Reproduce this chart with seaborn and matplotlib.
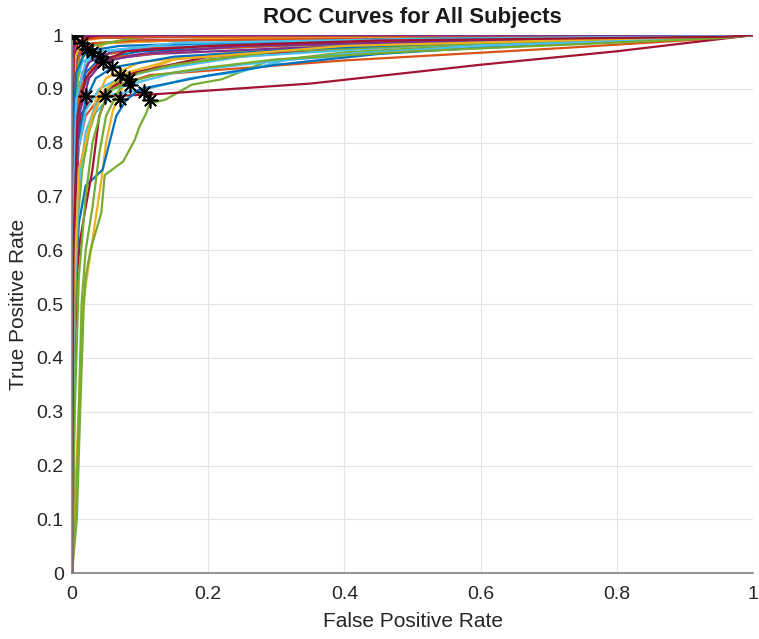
import pandas as pd
import seaborn as sns
import matplotlib.pyplot as plt
from matplotlib.ticker import FuncFormatter

# ROC points (fpr, tpr) per subject
s01 = [(0, 0), (0.001, 0.7), (0.004, 0.93), (0.01, 0.97), (0.03, 0.985), (0.15, 0.99), (0.5, 0.995), (0.96, 0.997), (1, 1)]
s02 = [(0, 0), (0.002, 0.5), (0.008, 0.78), (0.02, 0.85), (0.05, 0.9), (0.115, 0.926), (0.4, 0.953), (0.72, 0.976), (0.96, 0.995), (1, 1)]
s03 = [(0, 0), (0.016, 0.5), (0.043, 0.73), (0.05, 0.8), (0.06, 0.86), (0.08, 0.92), (0.15, 0.955), (0.3, 0.975), (0.6, 0.99), (0.96, 0.998), (1, 1)]
s04 = [(0, 0), (0.001, 0.8), (0.006, 0.95), (0.02, 0.98), (0.08, 0.99), (0.4, 0.995), (1, 1)]
s05 = [(0, 0), (0.007, 0.1), (0.012, 0.3), (0.017, 0.49), (0.02, 0.55), (0.027, 0.6), (0.043, 0.67), (0.048, 0.74),
       (0.075, 0.765), (0.092, 0.805), (0.099, 0.83), (0.109, 0.855), (0.114, 0.873), (0.137, 0.88), (0.176, 0.908),
       (0.22, 0.918), (0.286, 0.951), (0.4, 0.968), (0.6, 0.982), (0.96, 0.996), (1, 1)]
s06 = [(0, 0), (0.003, 0.6), (0.01, 0.75), (0.03, 0.85), (0.06, 0.89), (0.11, 0.9), (0.173, 0.92), (0.247, 0.932),
       (0.315, 0.954), (0.5, 0.97), (0.75, 0.985), (0.96, 0.997), (1, 1)]
s07 = [(0, 0), (0.003, 0.35), (0.005, 0.6), (0.008, 0.75), (0.012, 0.85), (0.03, 0.885), (0.12, 0.89), (0.35, 0.91),
       (0.6, 0.945), (0.8, 0.97), (1, 1)]
s08 = [(0, 0), (0.004, 0.5), (0.01, 0.65), (0.02, 0.72), (0.045, 0.75), (0.055, 0.8), (0.065, 0.85), (0.08, 0.88),
       (0.1, 0.9), (0.14, 0.91), (0.2, 0.925), (0.3, 0.945), (0.45, 0.965), (0.7, 0.985), (0.96, 0.997), (1, 1)]
s09 = [(0, 0), (0.002, 0.6), (0.006, 0.85), (0.015, 0.93), (0.03, 0.96), (0.1, 0.975), (0.3, 0.985), (0.96, 0.998), (1, 1)]
s10 = [(0, 0), (0.001, 0.7), (0.005, 0.9), (0.015, 0.96), (0.05, 0.985), (0.2, 0.993), (1, 1)]
s11 = [(0, 0), (0.002, 0.75), (0.008, 0.9), (0.025, 0.95), (0.06, 0.97), (0.2, 0.98), (0.45, 0.99), (0.96, 0.998), (1, 1)]
s12 = [(0, 0), (0.006, 0.12), (0.01, 0.3), (0.014, 0.5), (0.02, 0.6), (0.03, 0.68), (0.04, 0.78), (0.05, 0.85),
       (0.07, 0.9), (0.09, 0.93), (0.2, 0.955), (0.35, 0.97), (0.6, 0.985), (0.96, 0.997), (1, 1)]
s13 = [(0, 0), (0.002, 0.55), (0.008, 0.78), (0.02, 0.86), (0.04, 0.9), (0.07, 0.92), (0.12, 0.935), (0.25, 0.96),
       (0.5, 0.98), (0.96, 0.997), (1, 1)]
s14 = [(0, 0), (0.004, 0.36), (0.007, 0.55), (0.012, 0.62), (0.02, 0.68), (0.03, 0.75), (0.04, 0.85), (0.055, 0.9),
       (0.09, 0.93), (0.2, 0.96), (0.5, 0.985), (1, 1)]
s15 = [(0, 0), (0.002, 0.65), (0.006, 0.85), (0.02, 0.93), (0.04, 0.955), (0.1, 0.97), (0.3, 0.98), (0.6, 0.99), (0.96, 0.997), (1, 1)]
s16 = [(0, 0), (0.001, 0.8), (0.004, 0.92), (0.012, 0.97), (0.03, 0.985), (0.1, 0.99), (0.96, 0.998), (1, 1)]
s17 = [(0, 0), (0.003, 0.45), (0.008, 0.7), (0.02, 0.8), (0.035, 0.88), (0.05, 0.92), (0.1, 0.95), (0.25, 0.97),
       (0.5, 0.985), (0.96, 0.998), (1, 1)]
s18 = [(0, 0), (0.002, 0.7), (0.01, 0.88), (0.025, 0.93), (0.05, 0.955), (0.12, 0.965), (0.3, 0.975), (0.55, 0.985), (0.96, 0.997), (1, 1)]
s19 = [(0, 0), (0.003, 0.4), (0.008, 0.65), (0.015, 0.75), (0.025, 0.82), (0.04, 0.88), (0.06, 0.91), (0.1, 0.93),
       (0.15, 0.945), (0.3, 0.97), (0.6, 0.985), (0.96, 0.997), (1, 1)]
s20 = [(0, 0), (0.001, 0.75), (0.005, 0.9), (0.015, 0.95), (0.04, 0.97), (0.12, 0.98), (0.4, 0.99), (0.96, 0.998), (1, 1)]
s21 = [(0, 0), (0.001, 0.85), (0.003, 0.95), (0.008, 0.985), (0.02, 0.995), (0.3, 0.998), (1, 1)]
s22 = [(0, 0), (0.002, 0.6), (0.008, 0.8), (0.02, 0.88), (0.035, 0.92), (0.06, 0.94), (0.15, 0.96), (0.35, 0.975),
       (0.65, 0.99), (0.96, 0.997), (1, 1)]
s23 = [(0, 0), (0.001, 0.55), (0.004, 0.8), (0.012, 0.9), (0.03, 0.94), (0.07, 0.96), (0.2, 0.975), (0.5, 0.99), (1, 1)]
s24 = [(0, 0), (0.001, 0.85), (0.005, 0.96), (0.015, 0.99), (0.06, 0.997), (1, 1)]
s25 = [(0, 0), (0.002, 0.6), (0.01, 0.85), (0.025, 0.92), (0.045, 0.95), (0.1, 0.965), (0.25, 0.98), (0.6, 0.99), (0.96, 0.997), (1, 1)]
s26 = [(0, 0), (0.003, 0.8), (0.01, 0.95), (0.03, 0.98), (0.07, 0.99), (0.125, 1.0), (1, 1)]
s27 = [(0, 0), (0.003, 0.5), (0.01, 0.72), (0.02, 0.82), (0.035, 0.87), (0.06, 0.9), (0.09, 0.91), (0.15, 0.93),
       (0.25, 0.945), (0.4, 0.965), (0.6, 0.98), (0.96, 0.997), (1, 1)]
s28 = [(0, 0), (0.001, 0.8), (0.003, 0.99), (0.01, 0.998), (1, 1)]
s29 = [(0, 0), (0.001, 0.8), (0.006, 0.93), (0.02, 0.97), (0.07, 0.98), (0.2, 0.985), (0.5, 0.993), (0.96, 0.998), (1, 1)]
s30 = [(0, 0), (0.0, 0.9), (0.002, 0.97), (0.008, 0.99), (0.04, 0.995), (0.2, 0.998), (1, 1)]
s31 = [(0, 0), (0.002, 0.5), (0.01, 0.75), (0.03, 0.85), (0.05, 0.9), (0.08, 0.93), (0.15, 0.955), (0.4, 0.98), (0.96, 0.998), (1, 1)]
s32 = [(0, 0), (0.0, 0.95), (0.004, 0.995), (0.01, 1.0), (1, 1)]
s33 = [(0, 0), (0.004, 0.3), (0.01, 0.55), (0.02, 0.7), (0.03, 0.8), (0.045, 0.87), (0.06, 0.9), (0.09, 0.915),
       (0.12, 0.925), (0.2, 0.94), (0.3, 0.955), (0.5, 0.97), (0.96, 0.995), (1, 1)]
s34 = [(0, 0), (0.001, 0.6), (0.006, 0.88), (0.02, 0.95), (0.05, 0.97), (0.15, 0.985), (0.5, 0.993), (0.96, 0.998), (1, 1)]
s35 = [(0, 0), (0.002, 0.6), (0.008, 0.85), (0.02, 0.92), (0.04, 0.95), (0.08, 0.97), (0.2, 0.98), (0.45, 0.99), (0.96, 0.997), (1, 1)]

curves = [s01, s02, s03, s04, s05, s06, s07, s08, s09, s10, s11, s12, s13, s14, s15, s16, s17, s18,
          s19, s20, s21, s22, s23, s24, s25, s26, s27, s28, s29, s30, s31, s32, s33, s34, s35]

# optimal operating points (black asterisks)
opt_fpr = [0.003, 0.014, 0.022, 0.029, 0.041, 0.046, 0.058, 0.070, 0.083, 0.085,
           0.021, 0.048, 0.070, 0.105, 0.115]
opt_tpr = [0.998, 0.985, 0.975, 0.969, 0.961, 0.950, 0.941, 0.926, 0.918, 0.907,
           0.886, 0.886, 0.881, 0.895, 0.879]

matlab_colors = ['#0072BD', '#D95319', '#EDB120', '#7E2F8E', '#77AC30', '#4DBEEE', '#A2142F']

rows = []
for i, pts in enumerate(curves):
    for k, (f, t) in enumerate(pts):
        rows.append({'subject': f'S{i + 1:02d}', 'step': k, 'fpr': f, 'tpr': t})
df = pd.DataFrame(rows)
subjects = list(df['subject'].unique())
palette = {s: matlab_colors[i % 7] for i, s in enumerate(subjects)}

sns.set_style('white')
plt.rcParams['font.family'] = ['Liberation Sans', 'DejaVu Sans']

fig = plt.figure(figsize=(7.59, 6.39), dpi=100)
ax = fig.add_axes([0.0949, 0.103, 0.8972, 0.842])

sns.lineplot(data=df, x='fpr', y='tpr', hue='subject', palette=palette, sort=False,
             estimator=None, legend=False, linewidth=1.6, ax=ax)
sns.scatterplot(x=opt_fpr, y=opt_tpr, marker=(8, 2, 0), s=110, color='black',
                linewidth=1.2, zorder=5, ax=ax)

ax.set_xlim(0, 1)
ax.set_ylim(0, 1)
ax.set_xticks([0, 0.2, 0.4, 0.6, 0.8, 1])
ax.set_yticks([i / 10 for i in range(11)])
fmt = FuncFormatter(lambda v, p: f'{v:g}')
ax.xaxis.set_major_formatter(fmt)
ax.yaxis.set_major_formatter(fmt)
ax.grid(True, color='#e3e3e3', linewidth=0.8)
ax.set_axisbelow(True)
for side in ['top', 'right']:
    ax.spines[side].set_visible(False)
for side in ['left', 'bottom']:
    ax.spines[side].set_color('#808080')
    ax.spines[side].set_linewidth(1.2)
ax.tick_params(axis='x', direction='in', length=4, color='#808080', labelsize=14, labelcolor='#262626', pad=9)
ax.tick_params(axis='y', direction='in', length=4, color='#808080', labelsize=14, labelcolor='#262626', pad=6)

ax.set_xlabel('False Positive Rate', fontsize=15, color='#262626', labelpad=7)
ax.set_ylabel('True Positive Rate', fontsize=15, color='#262626', labelpad=6)
ax.set_title('ROC Curves for All Subjects', fontsize=16, fontweight='bold', color='#1a1a1a', pad=9)

fig.savefig('out.png', dpi=100)
